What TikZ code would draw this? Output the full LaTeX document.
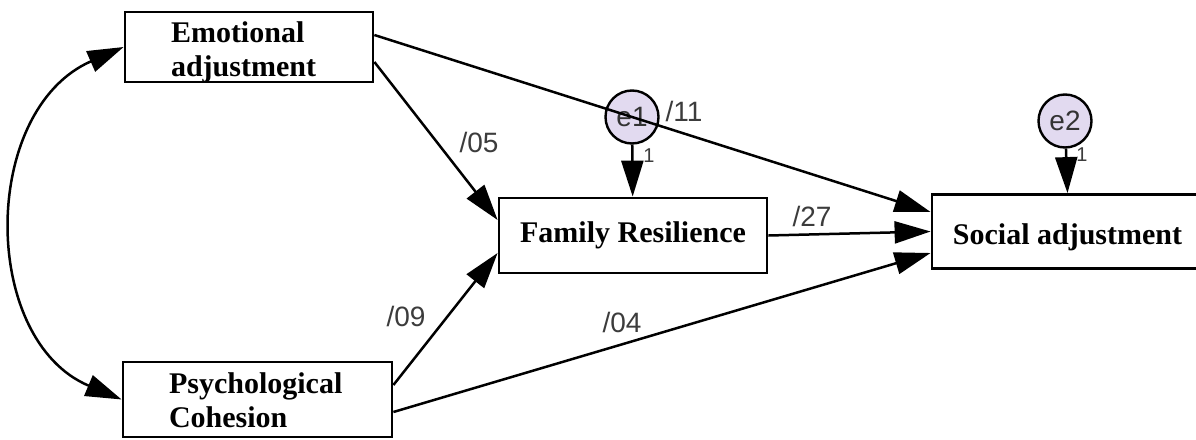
\documentclass[tikz,border=0pt]{standalone}
\usepackage{fontspec}
\setmainfont{Liberation Serif}
\newfontfamily\labfont{Liberation Sans}
\usetikzlibrary{arrows.meta}
\definecolor{errfill}{RGB}{226,218,240}
\definecolor{labcol}{RGB}{60,60,60}
\tikzset{
  boxfont/.style={font=\fontsize{30}{34}\selectfont\bfseries},
  box/.style={draw, line width=2.8pt, rectangle, inner ysep=0pt, boxfont},
  boxtext/.style={boxfont, align=left, inner sep=0pt},
  errc/.style={draw, line width=2.4pt, circle, fill=errfill, minimum size=53pt, inner sep=0pt,
    font=\labfont\fontsize{28}{28}\selectfont, text=black!80},
  path/.style={line width=2.5pt, -{Triangle[length=36pt,width=22pt]}},
  lab/.style={font=\labfont\fontsize{28}{28}\selectfont, text=labcol, inner sep=0pt},
  one/.style={font=\labfont\fontsize{20}{20}\selectfont, text=labcol, inner sep=0pt},
}
\begin{document}
\begin{tikzpicture}[x=1pt,y=-1pt]
\useasboundingbox (0,0) rectangle (1196,439);
% boxes
\node[box, minimum width=248pt, minimum height=70pt,
  label={[boxtext, text width=156pt, yshift=-5pt, name=Et]center:{Emotional\\adjustment}}] (E) at (249,47) {};
\node[box, minimum width=269pt, minimum height=75pt,
  label={[boxtext, text width=177pt, yshift=-1pt, name=Pt]center:{Psychological\\Cohesion}}] (P) at (257.5,399.5) {};
\node[box, minimum width=268pt, minimum height=75pt] (FR) at (633,235.5) {Family Resilience};
\node[box, minimum width=271pt, minimum height=74pt, text height=32pt, text depth=7pt] (SA) at (1067.5,231.5) {Social adjustment};
% error terms
\node[errc] (e1) at (632,117) {e1};
\node[errc] (e2) at (1065,121) {e2};
% paths
\draw[path] (e1) -- (FR);
\draw[path] (e2) -- (SA.north);
\draw[path] ([yshift=12pt]E.east) -- ([yshift=19.5pt]SA.west);
\draw[path] ([yshift=-15pt]E.east) -- ([yshift=15.5pt]FR.west);
\draw[path] ([yshift=14.5pt]P.east) -- ([yshift=-17.5pt]FR.west);
\draw[path] ([yshift=-12.5pt]P.east) -- ([yshift=-21.5pt]SA.west);
\draw[path] (FR.east) -- (SA.west);
\draw[line width=2.5pt, {Triangle[length=36pt,width=22pt]}-{Triangle[length=36pt,width=22pt]}]
  (E.west) .. controls (-20,110) and (-20,340) .. (P.west);
% labels
\node[lab] (l05) at (479,142) {/05};
\node[lab] (l11) at (684,111) {/11};
\node[lab] (l27) at (812,216) {/27};
\node[lab] (l09) at (406,316) {/09};
\node[lab] (l04) at (622,322) {/04};
\node[one] (o1) at (649,156) {1};
\node[one] (o2) at (1082,155) {1};
\end{tikzpicture}
\end{document}
